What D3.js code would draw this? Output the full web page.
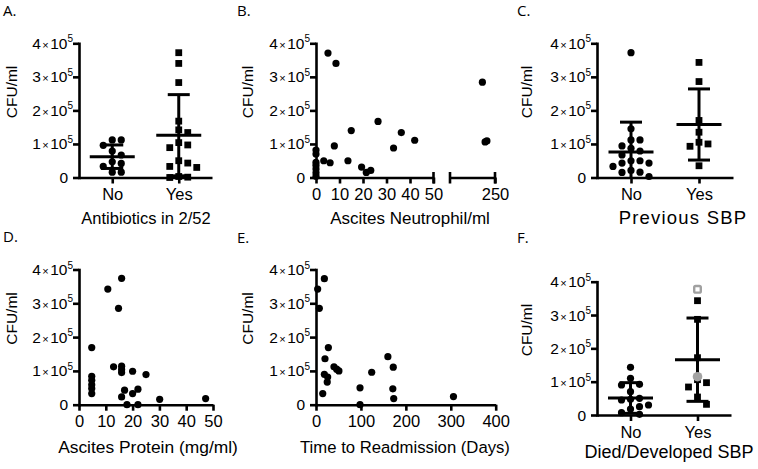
<!DOCTYPE html>
<html><head><meta charset="utf-8">
<script src="https://cdn.jsdelivr.net/npm/d3@7"></script>
<style>body{margin:0;background:#fff}svg{display:block}</style>
</head><body>
<svg id="c" width="758" height="469"></svg>
<script>
// ---------------- DATA ----------------
const cfuTicks = [0, 100000, 200000, 300000, 400000];
const groupLabels = ["No", "Yes"];

// A. Antibiotics in 2/52
const abxNo  = [112000,112000,96000,79000,67000,47000,42000,33000,16000,16000];
const abxYes = [372000,340000,283000,168000,142000,134000,104000,97000,89000,50000,43000,33000,30000,3000,1000,0];
const abxMean = [62000,126000];
const abxSD   = [35000,121000];

// B. Ascites Neutrophil/ml (broken axis)
const neutX = [0,0,0,0,0,0,0,5.1,8.5,15,26.4,36.3,42,33,7.8,3.3,6,13.6,19.4,21.4,23.3];
const neutY = [82000,70000,45000,36000,25000,14000,4000,371000,340000,140000,167000,134000,111000,88000,94000,50000,44000,50000,31000,15000,21000];
const neutHighX = [236,239,241];
const neutHighY = [284000,106000,109000];
const neutTicksLow = [0,10,20,30,40,50];
const neutTicksHigh = [250];

// C. Previous SBP
const prevNo  = [372000,145000,112000,112000,94000,87000,79000,67000,50000,50000,43000,43000,33000,21000,16000,15000,3000];
const prevYes = [343000,286000,170000,135000,100000,105000,93000,35000];
const prevMean = [76000,158000];
const prevSD   = [89000,106000];

// D. Ascites Protein (mg/ml)
const protX = [4.75,4.75,4.75,4.75,4.75,4.75,10.75,15.9,14.75,12.9,15.9,15.9,15.9,20,25,17,15.9,20,22,17.9,22,30.1,47.25];
const protY = [169000,84000,72000,59000,48000,33000,342000,374000,285000,112000,114000,104000,95000,99000,89000,43000,23000,33000,46000,0,0,16000,18000];
const protTicks = [0,10,20,30,40,50];

// E. Time to Readmission (Days)
const daysX = [18.6,3.7,7.4,27.5,20,18.6,26,25,40,46,51,15,98,98,124,160,172,171,173,306];
const daysY = [373000,342000,285000,169000,136000,90000,82000,67000,112000,105000,100000,33000,50000,0,96000,142000,111000,47000,18000,24000];
const dayTicks = [0,100,200,300,400];

// F. Died/Developed SBP
const diedNo  = [143000,110000,92000,90000,70000,50000,47000,45000,30000,25000,18000,7000,2000];
const diedYes = [343000,287000,172000,106000,97000,84000,54000,32000];
const diedYesGrayOpen = [377000];
const diedYesGrayFilled = [115000];
const diedMean = [51000,166000];
const diedSD   = [46000,125000];

// ---------------- DRAWING ----------------
const svg = d3.select("#c");
const FONT = "'Liberation Sans', Arial, Helvetica, sans-serif";
const AXW = 2.6;

function panelLetter(txt, x, y) {
  svg.append("text").attr("x", x).attr("y", y).text(txt)
    .attr("font-family", "'Open Sans', 'DejaVu Sans', sans-serif").attr("font-size", 15).attr("fill", "#000");
}

function axisTitle(g, txt, x, y, size, spacing) {
  g.append("text").attr("x", x).attr("y", y).attr("text-anchor", "middle")
    .attr("font-family", FONT).attr("font-size", size).attr("letter-spacing", spacing || 0)
    .attr("fill", "#000").text(txt);
}

function yAxis(g, y, x0, titleX) {
  const ax = d3.axisLeft(y).tickValues(cfuTicks).tickSize(6).tickSizeOuter(0).tickFormat("");
  const a = g.append("g").attr("transform", `translate(${x0},0)`).call(ax);
  a.selectAll("path,line").attr("stroke", "#000").attr("stroke-width", AXW);
  a.select(".domain").attr("stroke-linecap", "square");
  cfuTicks.forEach(v => {
    const t = g.append("text").attr("font-family", FONT).attr("fill", "#000")
      .attr("text-anchor", "end").attr("y", y(v) + 5.5);
    if (v === 0) {
      t.attr("x", x0 - 11).attr("font-size", 15.5).text("0");
    } else {
      t.attr("x", x0 - 6);
      t.append("tspan").attr("font-size", 15.5).text(String(v / 100000));
      t.append("tspan").attr("font-size", 11).attr("dx", 1.5).text("\u00d7");
      t.append("tspan").attr("font-size", 15.5).attr("dx", 1.5).text("10");
      t.append("tspan").attr("font-size", 10).attr("dy", -6.5).text("5");
    }
  });
  g.append("text").attr("transform", `translate(${titleX},${y(255000)}) rotate(-90)`)
    .attr("text-anchor", "middle").attr("font-family", FONT).attr("font-size", 15.5).text("CFU/ml");
}

function styleAxis(a) {
  a.selectAll("path,line").attr("stroke", "#000").attr("stroke-width", AXW);
  a.selectAll("text").attr("font-family", FONT).attr("font-size", 16.5).attr("fill", "#000");
}

function swarm(values, y, cx, step, minD) {
  const order = values.map((v, i) => i).sort((a, b) => values[b] - values[a]);
  const placed = [];
  const out = new Array(values.length);
  order.forEach(i => {
    const py = y(values[i]);
    for (let k = 0; k < 40; k++) {
      const off = (k === 0) ? 0 : (k % 2 ? 1 : -1) * Math.ceil(k / 2) * step;
      const px = cx + off;
      if (placed.every(p => Math.hypot(p[0] - px, p[1] - py) >= minD)) {
        placed.push([px, py]); out[i] = [px, py]; break;
      }
    }
  });
  return out;
}

function errorBar(g, cx, y, mean, sd) {
  const top = y(mean + sd), bot = y(Math.max(0, mean - sd)), m = y(mean);
  const line = (x1, y1, x2, y2) => g.append("line").attr("x1", x1).attr("y1", y1).attr("x2", x2).attr("y2", y2)
    .attr("stroke", "#000").attr("stroke-width", 3);
  line(cx, top, cx, bot);
  line(cx - 11, top, cx + 11, top);
  if (mean - sd > 0) line(cx - 11, bot, cx + 11, bot);
  line(cx - 22.5, m, cx + 22.5, m);
}

function catPanel(opt) {
  const g = svg.append("g");
  const y = d3.scaleLinear().domain([0, 400000]).range([opt.y0, opt.y4]);
  const x = d3.scalePoint().domain(groupLabels).range([opt.x0, opt.x1]).padding(0.5);
  const xa = g.append("g").attr("transform", `translate(0,${opt.y0})`)
    .call(d3.axisBottom(x).tickSize(6).tickSizeOuter(0).tickPadding(5));
  styleAxis(xa);
  yAxis(g, y, opt.x0, opt.titleX);
  swarm(opt.no, y, x("No"), 9, 7.5).forEach(p =>
    g.append("circle").attr("cx", p[0]).attr("cy", p[1]).attr("r", 3.6).attr("fill", "#000"));
  swarm(opt.yes, y, x("Yes"), 9, 7.5).forEach(p =>
    g.append("rect").attr("x", p[0] - 3.4).attr("y", p[1] - 3.4).attr("width", 6.8).attr("height", 6.8).attr("fill", "#000"));
  errorBar(g, x("No"), y, opt.mean[0], opt.sd[0]);
  errorBar(g, x("Yes"), y, opt.mean[1], opt.sd[1]);
  axisTitle(g, opt.title, opt.titleCx, opt.titleY, opt.titleSize, opt.titleSpacing);
  return {g, x, y};
}

// A
panelLetter("A.", 3, 16);
catPanel({x0: 79, x1: 212, y0: 177.5, y4: 43.3, titleX: 17, no: abxNo, yes: abxYes,
  mean: abxMean, sd: abxSD, title: "Antibiotics in 2/52", titleCx: 146, titleY: 224, titleSize: 16.5});

// C
panelLetter("C.", 517, 16);
catPanel({x0: 597, x1: 733, y0: 177.5, y4: 43.3, titleX: 532, no: prevNo, yes: prevYes,
  mean: prevMean, sd: prevSD, title: "Previous SBP", titleCx: 683, titleY: 224, titleSize: 18.5, titleSpacing: 1.2});

// F
panelLetter("F.", 517, 243);
const F = catPanel({x0: 597, x1: 731, y0: 415, y4: 281.7, titleX: 532, no: diedNo, yes: diedYes,
  mean: diedMean, sd: diedSD, title: "Died/Developed SBP", titleCx: 669, titleY: 458, titleSize: 18});
diedYesGrayOpen.forEach(v =>
  F.g.append("rect").attr("x", F.x("Yes") - 3.3).attr("y", F.y(v) - 3.3).attr("width", 6.6).attr("height", 6.6)
    .attr("rx", 1.5).attr("fill", "#fff").attr("stroke", "#a0a0a0").attr("stroke-width", 2.4));
diedYesGrayFilled.forEach(v =>
  F.g.append("circle").attr("cx", F.x("Yes")).attr("cy", F.y(v)).attr("r", 4.8).attr("fill", "#a3a3a3"));

// B (broken x axis)
panelLetter("B.", 237, 16);
{
  const g = svg.append("g");
  const y = d3.scaleLinear().domain([0, 400000]).range([177.5, 43.3]);
  const x1 = d3.scaleLinear().domain([0, 50]).range([316, 433.5]);
  const x2 = d3.scaleLinear().domain([200, 250]).range([450, 495]);
  const a1 = g.append("g").attr("transform", "translate(0,177.5)")
    .call(d3.axisBottom(x1).tickValues(neutTicksLow).tickSize(6).tickSizeOuter(0).tickPadding(5));
  styleAxis(a1);
  const a2 = g.append("g").attr("transform", "translate(0,177.5)")
    .call(d3.axisBottom(x2).tickValues(neutTicksHigh).tickSize(6).tickSizeOuter(0).tickPadding(5));
  styleAxis(a2);
  [x1(50), x2.range()[0], x2(250)].forEach(xx =>
    g.append("line").attr("x1", xx).attr("x2", xx).attr("y1", 172).attr("y2", 183.5)
      .attr("stroke", "#000").attr("stroke-width", AXW));
  yAxis(g, y, 316, 253);
  neutX.forEach((v, i) => g.append("circle").attr("cx", x1(v)).attr("cy", y(neutY[i])).attr("r", 3.6).attr("fill", "#000"));
  neutHighX.forEach((v, i) => g.append("circle").attr("cx", x2(v)).attr("cy", y(neutHighY[i])).attr("r", 3.6).attr("fill", "#000"));
  axisTitle(g, "Ascites Neutrophil/ml", 410, 224, 17);
}

// D
panelLetter("D.", 3, 242);
{
  const g = svg.append("g");
  const y = d3.scaleLinear().domain([0, 400000]).range([404.7, 269.5]);
  const x = d3.scaleLinear().domain([0, 50]).range([79, 213]);
  const a = g.append("g").attr("transform", "translate(0,404.7)")
    .call(d3.axisBottom(x).tickValues(protTicks).tickSize(6).tickSizeOuter(0).tickPadding(5));
  styleAxis(a);
  yAxis(g, y, 79, 17);
  protX.forEach((v, i) => g.append("circle").attr("cx", x(v)).attr("cy", y(protY[i])).attr("r", 3.6).attr("fill", "#000"));
  axisTitle(g, "Ascites Protein (mg/ml)", 148, 453, 17.4);
}

// E
panelLetter("E.", 237, 243);
{
  const g = svg.append("g");
  const y = d3.scaleLinear().domain([0, 400000]).range([404.7, 269.5]);
  const x = d3.scaleLinear().domain([0, 400]).range([316, 495.7]);
  const a = g.append("g").attr("transform", "translate(0,404.7)")
    .call(d3.axisBottom(x).tickValues(dayTicks).tickSize(6).tickSizeOuter(0).tickPadding(5));
  styleAxis(a);
  yAxis(g, y, 316, 253);
  daysX.forEach((v, i) => g.append("circle").attr("cx", x(v)).attr("cy", y(daysY[i])).attr("r", 3.6).attr("fill", "#000"));
  axisTitle(g, "Time to Readmission (Days)", 405, 453, 16.7);
}
</script>
</body></html>
